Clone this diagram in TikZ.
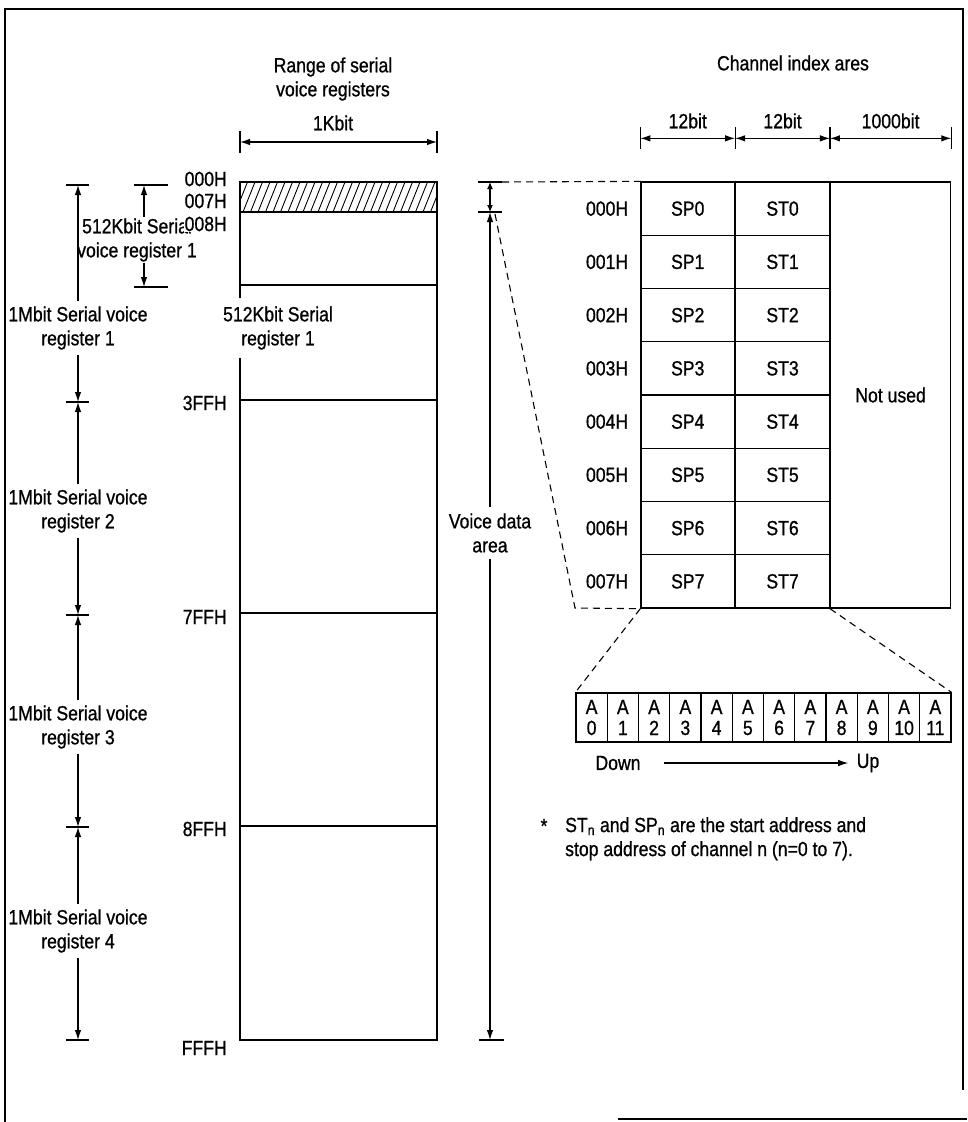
\documentclass[tikz,border=0pt]{standalone}
\usepackage{fontspec}
\setmainfont{Liberation Sans}[FakeStretch=0.86,FakeBold=0.8]
\usetikzlibrary{arrows.meta,positioning}

\begin{document}
\begin{tikzpicture}[
    x=1pt, y=-1pt,
    >={Latex[length=10pt,width=6.5pt]},
    every node/.style={font=\fontsize{20.5}{24}\selectfont},
    txt/.style={align=center, inner sep=1pt},
    addr/.style={anchor=east, inner sep=1pt, fill=white},
    tick/.style={line width=1.1pt},
    dim/.style={line width=1.1pt},
    zoomline/.style={dash pattern=on 7pt off 5pt, line width=1.1pt},
    cell/.style={draw, line width=1.3pt, minimum width=93.5pt, minimum height=53.25pt, inner sep=0pt},
    bitcell/.style={draw, line width=1.2pt, minimum width=31.25pt, minimum height=49pt, inner sep=0pt, align=center, font=\fontsize{20.5}{21}\selectfont}]
    \useasboundingbox (0,0) rectangle (967,1122);
    % frame
    \draw[line width=1.3pt] (5,1122) -- (5,9) -- (963,9) -- (963,1090);
    \draw[line width=1.3pt] (618,1119) -- (967,1119);

    % range of serial voice registers
    \node[txt] (range) at (333,79) {Range of serial\\voice registers};
    \node[txt] (kbit) at (333,123) {1Kbit};
    \coordinate (kl) at (240,142);
    \coordinate (kr) at (437,142);
    \draw[tick] (240,131) -- (240,153);
    \draw[tick] (437,131) -- (437,153);
    \draw[dim,<->] (kl) -- (kr);

    \draw[line width=1.3pt] (240,182) rectangle (437,1040);
    \begin{scope}
      \clip (240,182) rectangle (437,212);
      \foreach \h in {0,...,28}
        \draw[line width=0.9pt] (228+7.5*\h,212) -- ++(12,-30);
    \end{scope}
    \draw[line width=1.3pt] (240,212) -- (437,212);
    \foreach \y in {285,400,613,826}
      \draw[line width=1.2pt] (240,\y) -- (437,\y);
    \node[txt, fill=white, inner ysep=8pt] (half) at (278,328) {512Kbit Serial\\register 1};

    % 512Kbit register
    \draw[tick] (134,185) -- (168,185);
    \draw[tick] (134,287) -- (168,287);
    \coordinate (k1) at (144,185);
    \coordinate (k2) at (144,287);
    \node[txt] (hreg) at (137,240) {512Kbit Serial\\voice register 1};
    \draw[dim,->] (k1 |- hreg.north) -- (k1);
    \draw[dim,->] (k2 |- hreg.south) -- (k2);

    % addresses
    \node[addr] (h000) at (228,179) {000H};
    \node[addr] (h007) at (228,201) {007H};
    \node[addr] (h008) at (228,224) {008H};
    \node[addr] (h3ff) at (228,403) {3FFH};
    \node[addr] (h7ff) at (228,617) {7FFH};
    \node[addr] (h8ff) at (228,829) {8FFH};
    \node[addr] (hfff) at (228,1048) {FFFH};

    % 1Mbit registers
    \foreach \y [count=\i] in {185,402,615,827,1040} {
      \draw[tick] (66,\y) -- (89,\y);
      \coordinate (b\i) at (78,\y);
    }
    \node[txt, inner ysep=5pt] (r1) at (78,328) {1Mbit Serial voice\\register 1};
    \node[txt, inner ysep=5pt] (r2) at (78,511) {1Mbit Serial voice\\register 2};
    \node[txt, inner ysep=5pt] (r3) at (78,727) {1Mbit Serial voice\\register 3};
    \node[txt, inner ysep=5pt] (r4) at (78,931) {1Mbit Serial voice\\register 4};
    \draw[dim,->] (r1.north) -- (b1);
    \draw[dim,->] (r1.south) -- (b2);
    \draw[dim,->] (r2.north) -- (b2);
    \draw[dim,->] (r2.south) -- (b3);
    \draw[dim,->] (r3.north) -- (b3);
    \draw[dim,->] (r3.south) -- (b4);
    \draw[dim,->] (r4.north) -- (b4);
    \draw[dim,->] (r4.south) -- (b5);

    % voice data area
    \draw[tick] (478,182) -- (502,182);
    \draw[tick] (478,212) -- (502,212);
    \draw[tick] (479,1040) -- (504,1040);
    \coordinate (v1) at (490,182);
    \coordinate (v2) at (490,212);
    \coordinate (v3) at (490,1040);
    \node[txt, inner ysep=6pt] (vda) at (490,533) {Voice data\\area};
    \draw[dim,<->, >={Latex[length=7pt,width=6pt]}] (v1) -- (v2);
    \draw[dim,->] (vda.north) -- (v2);
    \draw[dim,->] (vda.south) -- (v3);

    % channel index area
    \node[txt] (chan) at (793,63) {Channel index ares};
    \foreach \i in {0,...,7} {
      \node[cell] (sp\i) at (687.75,208.625+53.25*\i) {SP\i};
      \node[cell, right=0pt of sp\i] (st\i) {ST\i};
      \node[addr, fill=none, left=11pt of sp\i] (adr\i) {00\i H};
    }
    \node[draw, line width=1.3pt, minimum width=120pt, minimum height=426pt, inner sep=0pt, anchor=north west] (unused) at (st0.north east) {Not used};

    \path (sp0.north west) ++(0,-43) coordinate (c1);
    \path (st0.north west) ++(0,-43) coordinate (c2);
    \path (st0.north east) ++(0,-43) coordinate (c3);
    \path (unused.north east) ++(0,-43) coordinate (c4);
    \foreach \c in {c1,c2,c3,c4}
      \draw[tick] (\c) ++(0,-11) -- ++(0,22);
    \draw[dim,<->] (c1) -- (c2) node[midway, above=6pt] {12bit};
    \draw[dim,<->] (c2) -- (c3) node[midway, above=6pt] {12bit};
    \draw[dim,<->] (c3) -- (c4) node[midway, above=6pt] {1000bit};

    % zoom lines
    \coordinate (zs) at (502,182);
    \coordinate (zt) at (495,214);
    \coordinate (zb) at (575,608);
    \draw[zoomline] (zs) -- (sp0.north west);
    \draw[zoomline] (zt) -- (zb) -- (sp7.south west);

    % address bits
    \foreach \b in {0,...,11}
      \node[bitcell] (bit\b) at (591.6+31.25*\b,717.5) {A\\\b};
    \draw[zoomline] (sp7.south west) -- (bit0.north west);
    \draw[zoomline] (st7.south east) -- (bit11.north east);
    \node (down) at (618,763) {Down};
    \node (up) at (868,763) {Up};
    \draw[dim,->, shorten <=20pt, shorten >=5pt] (down) -- (up);

    % note
    \node (star) at (544,826) {*};
    \node[anchor=north west, align=left, inner sep=0pt] (note) at (565,817)
      {ST\textsubscript{n} and SP\textsubscript{n} are the start address and\\stop address of channel n (n=0 to 7).};
\end{tikzpicture}
\end{document}
